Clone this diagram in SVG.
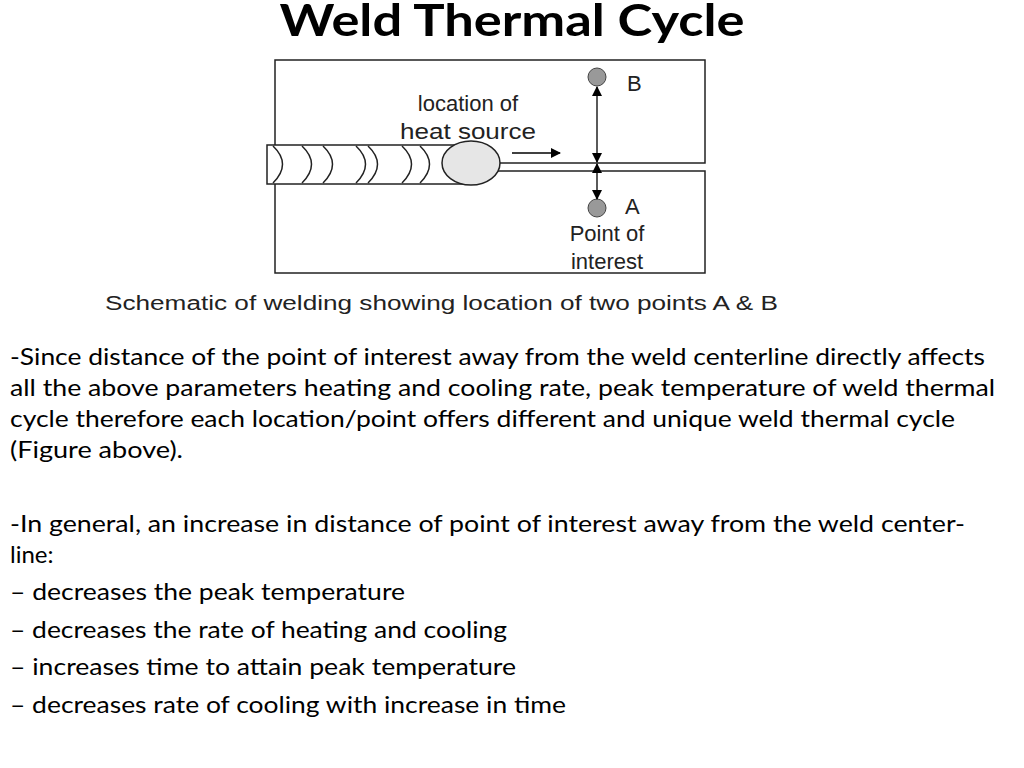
<svg xmlns="http://www.w3.org/2000/svg" width="1024" height="768" viewBox="0 0 1024 768">
<style>
.b{font-family:Lato,"Open Sans",sans-serif;font-size:24px;fill:#000}
.s{font-family:"Liberation Sans",Arial,sans-serif;font-size:20px;fill:#222}
.m{font-family:"Liberation Sans",Arial,sans-serif;font-size:22px;fill:#222}
.l{stroke:#222;stroke-width:1.5;fill:none}
</style>
<defs><marker id="ah" markerWidth="10" markerHeight="10" refX="9" refY="5" orient="auto" markerUnits="userSpaceOnUse"><path d="M0,0 L10,5 L0,10 z" fill="#000"/></marker></defs>
<rect width="1024" height="768" fill="#fff"/>
<text x="512" y="36" text-anchor="middle" font-family="Lato,'Open Sans',sans-serif" font-weight="bold" font-size="44" textLength="465" lengthAdjust="spacingAndGlyphs">Weld Thermal Cycle</text>
<g id="plates">
<rect x="275" y="60" width="430" height="103" class="l" fill="#fff"/>
<rect x="275" y="171" width="430" height="102" class="l" fill="#fff"/>
</g>
<g id="bead">
<rect x="267" y="145" width="204" height="39" fill="#fff" stroke="#222" stroke-width="1.5"/>
<g class="l">
<path d="M273,146 Q292,164 273,183"/><path d="M302,146 Q321,164 302,183"/><path d="M323,146 Q342,164 323,183"/>
<path d="M356,146 Q375,164 356,183"/><path d="M368,146 Q387,164 368,183"/><path d="M402,146 Q421,164 402,183"/><path d="M420,146 Q439,164 420,183"/>
</g>
<ellipse cx="471" cy="163" rx="29" ry="22" fill="#e6e6e6" stroke="#222" stroke-width="1.5"/>
</g>
<g id="B"><circle cx="597" cy="77" r="9" fill="#999" stroke="#444"/><text x="627" y="91" class="m">B</text></g>
<g id="A"><circle cx="597" cy="208" r="9" fill="#999" stroke="#444"/><text x="625" y="214" class="m">A</text>
<text x="607" y="241" class="m" text-anchor="middle">Point of</text><text x="607" y="269" class="m" text-anchor="middle">interest</text></g>
<g id="heat"><text x="468" y="111" class="m" text-anchor="middle">location of</text><text x="468" y="139" class="m" text-anchor="middle" textLength="136" lengthAdjust="spacingAndGlyphs">heat source</text></g>
<g id="connectors" stroke="#000" stroke-width="1.3">
<line x1="512" y1="153" x2="560" y2="153" marker-end="url(#ah)"/>
<line x1="597" y1="120" x2="597" y2="87" marker-end="url(#ah)"/>
<line x1="597" y1="120" x2="597" y2="162" marker-end="url(#ah)"/>
<line x1="597" y1="185" x2="597" y2="164" marker-end="url(#ah)"/>
<line x1="597" y1="185" x2="597" y2="199" marker-end="url(#ah)"/>
</g>
<text x="105" y="310" class="s" textLength="673" lengthAdjust="spacingAndGlyphs">Schematic of welding showing location of two points A &amp; B</text>
<g class="b">
<text x="10" y="365" textLength="975" lengthAdjust="spacingAndGlyphs">-Since distance of the point of interest away from the weld centerline directly affects</text>
<text x="10" y="396" textLength="985" lengthAdjust="spacingAndGlyphs">all the above parameters heating and cooling rate, peak temperature of weld thermal</text>
<text x="10" y="427" textLength="945" lengthAdjust="spacingAndGlyphs">cycle therefore each location/point offers different and unique weld thermal cycle</text>
<text x="10" y="458" textLength="173" lengthAdjust="spacingAndGlyphs">(Figure above).</text>
<text x="10" y="532" textLength="955" lengthAdjust="spacingAndGlyphs">-In general, an increase in distance of point of interest away from the  weld center-</text>
<text x="10" y="563">line:</text>
<text x="10" y="600" textLength="395" lengthAdjust="spacingAndGlyphs">– decreases the peak temperature</text>
<text x="10" y="638" textLength="497" lengthAdjust="spacingAndGlyphs">– decreases the rate of heating and cooling</text>
<text x="10" y="675" textLength="506" lengthAdjust="spacingAndGlyphs">– increases time to attain peak temperature</text>
<text x="10" y="713" textLength="556" lengthAdjust="spacingAndGlyphs">– decreases rate of cooling with increase in time</text>
</g>
</svg>
